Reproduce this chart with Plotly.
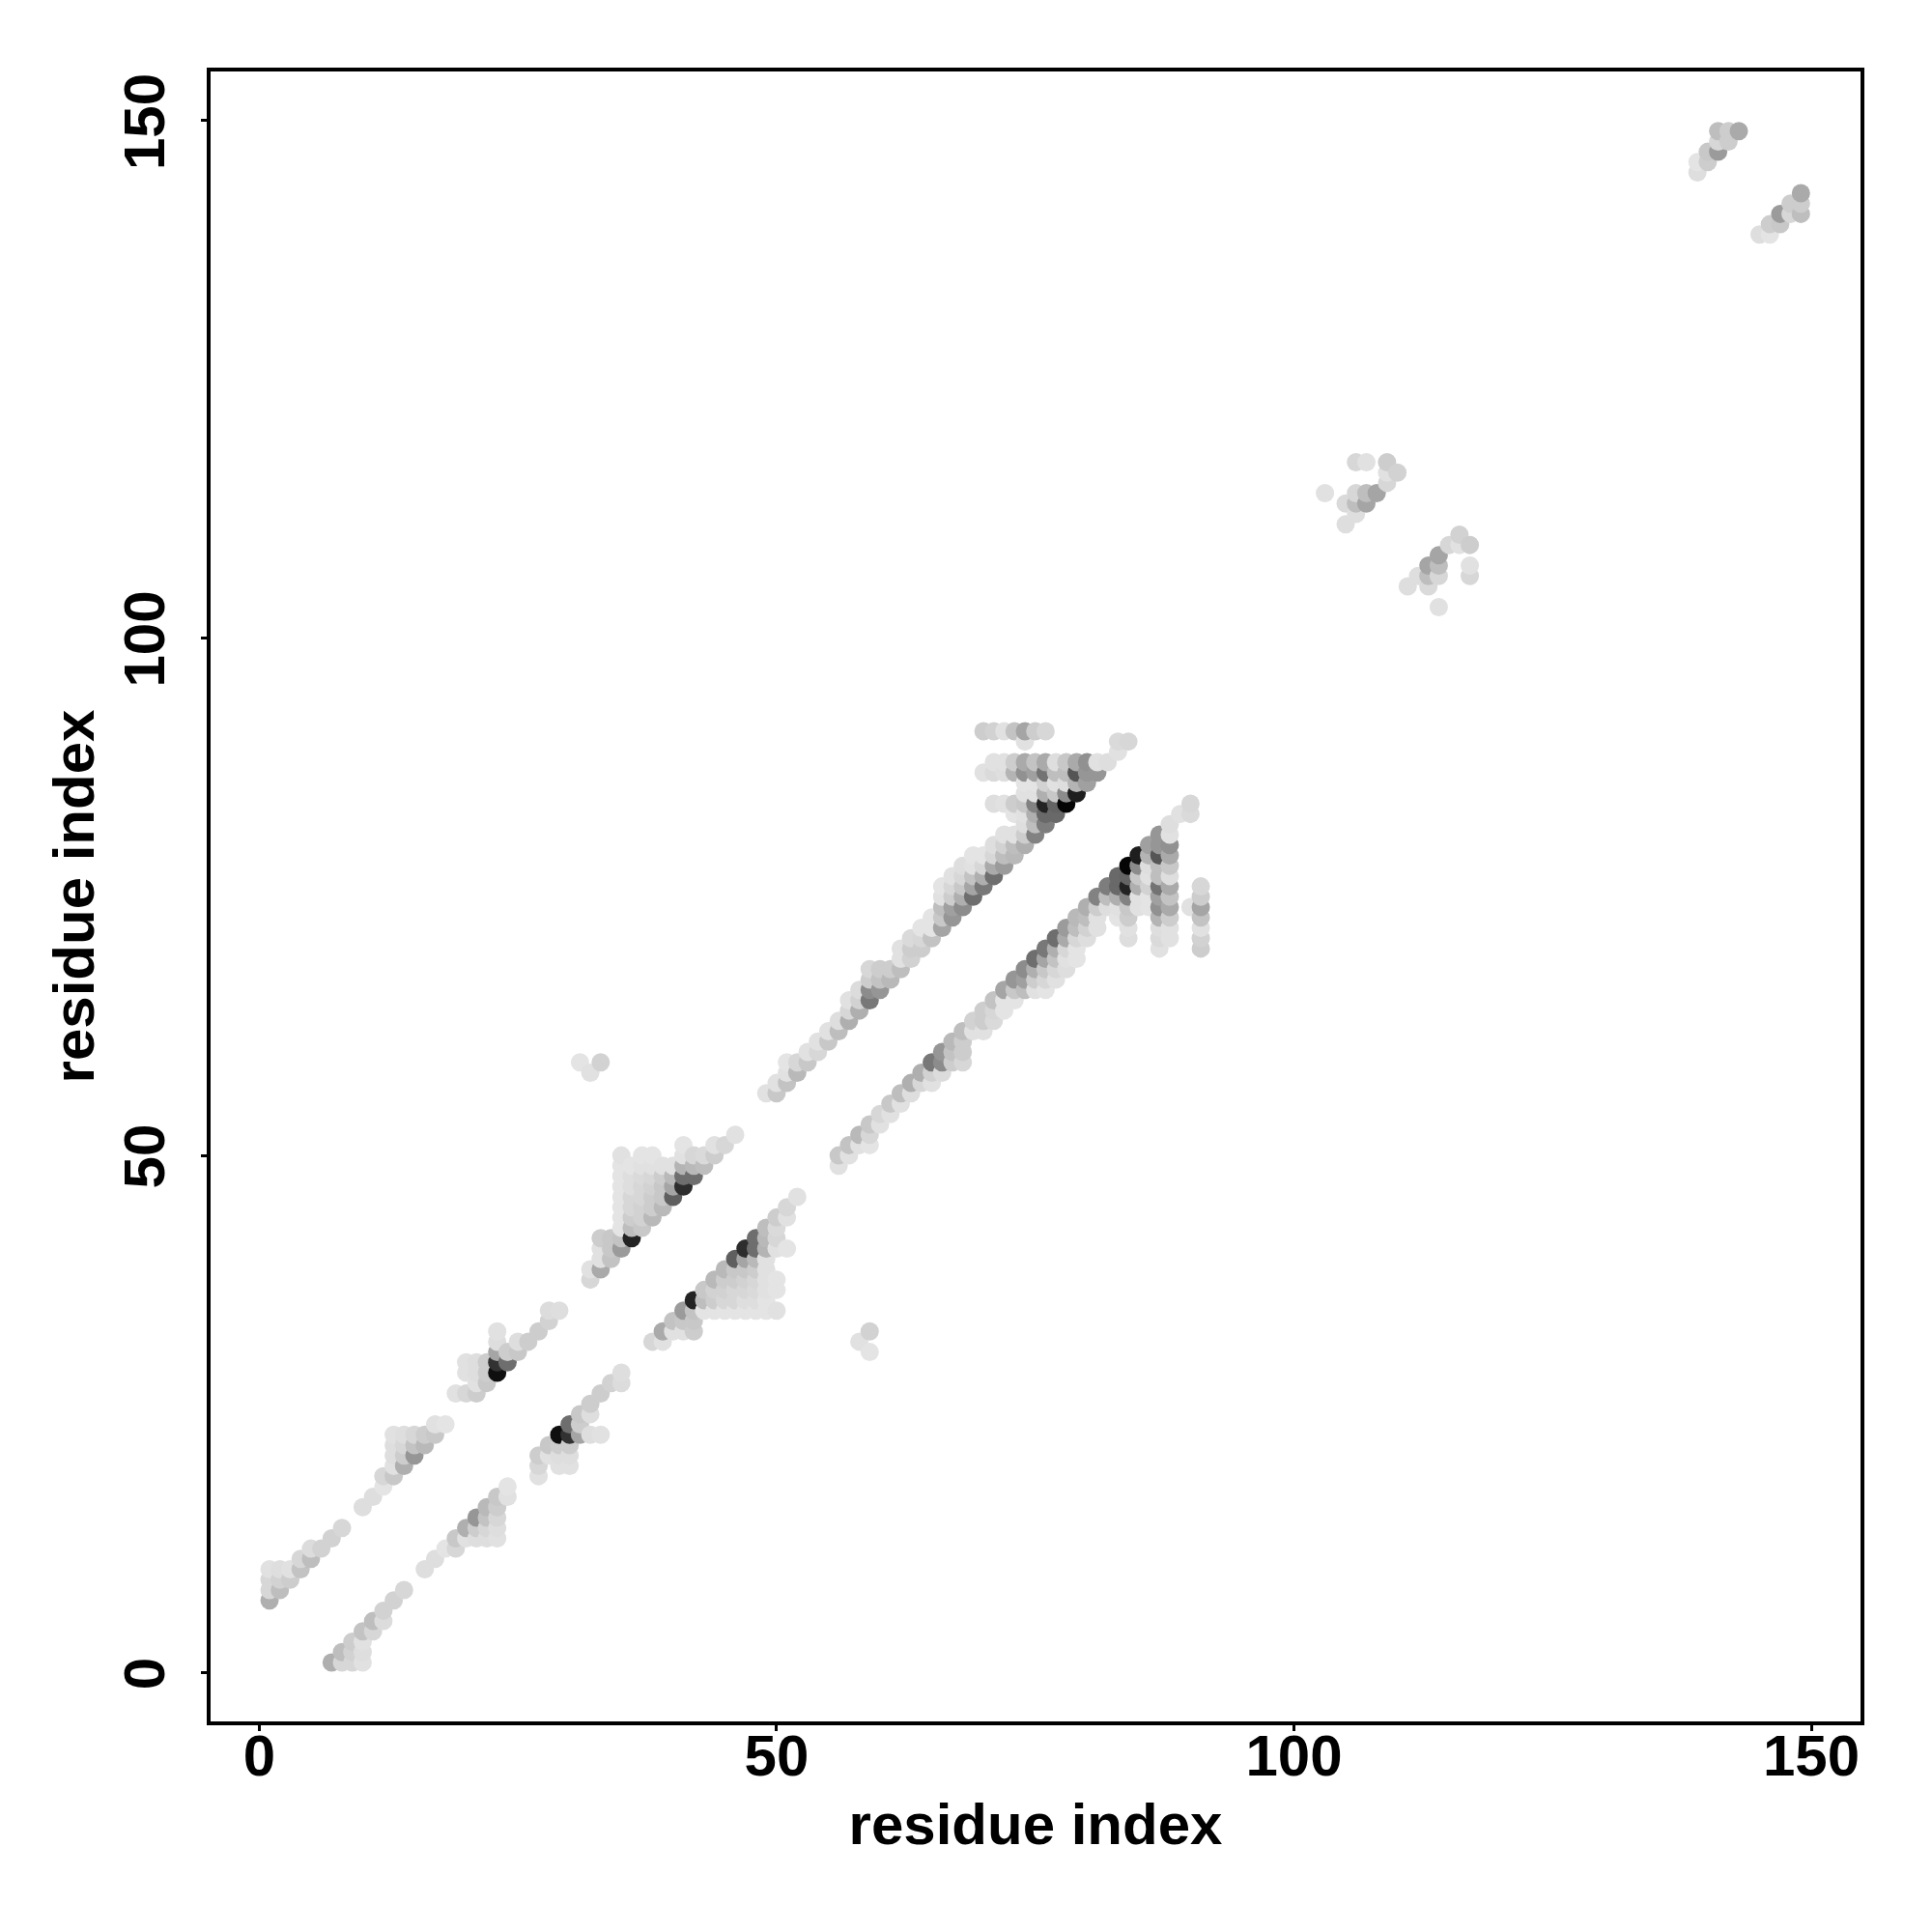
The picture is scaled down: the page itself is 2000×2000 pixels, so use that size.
import plotly.graph_objects as go

# contacts (residue i, residue j, grey level 0=black 255=white); the map is symmetric
helix_1 = [(7,1,175),(8,1,215),(9,1,215),(10,1,225),(8,2,190),(9,2,210),(10,2,222),(9,3,205),(10,3,225),
           (10,4,195),(11,4,215),(11,5,190),(12,5,220),(12,6,210),(13,7,210),(14,8,215)]
helix_2 = [(16,10,222),(17,11,222),(18,12,228),(19,12,215),(19,13,200),(20,13,225),(21,13,222),(22,13,222),
           (23,13,225),(20,14,175),(21,14,205),(22,14,215),(23,14,222),(21,15,150),
           (22,15,195),(23,15,215),(22,16,185),(23,16,205),(23,17,200),(24,17,225),(24,18,228)]
helix_3 = [(27,19,225),(27,20,215),(27,21,205),(28,21,225),(28,22,200),(29,20,225),(29,21,222),(29,22,205),
           (29,23,15),(30,20,225),(30,21,222),(30,22,205),(30,23,50),(31,23,165),(32,23,222),(33,23,225),
           (30,24,110),(31,24,205),(31,25,200),(32,25,222),(32,26,205),(33,27,205),(34,28,210),(35,28,220),(35,29,222)]
helix_4 = [(38,32,215),(39,32,225),(39,33,170),(40,33,225),(41,33,225),(42,33,205),(40,34,195),(41,34,200),(42,34,200),
           (41,35,155),(42,35,195),(43,35,228),(44,35,228),(45,35,228),(46,35,228),(47,35,228),(48,35,228),(49,35,228),(50,35,225),
           (42,36,35),(43,36,190),(44,36,205),(45,36,215),(46,36,215),(47,36,222),(48,36,222),(49,36,228),
           (43,37,200),(44,37,210),(45,37,210),(46,37,215),(47,37,215),(48,37,218),(49,37,225),(50,37,228),
           (44,38,185),(45,38,205),(46,38,205),(47,38,210),(48,38,215),(49,38,225),(50,38,228),
           (45,39,185),(46,39,200),(47,39,200),(48,39,205),(49,39,225),
           (46,40,95),(47,40,165),(48,40,185),(49,40,225),
           (47,41,45),(48,41,110),(49,41,180),(50,41,225),(51,41,228),
           (48,42,110),(49,42,185),(50,42,215),(49,43,190),(50,43,218),(50,44,205),(51,44,225),(51,45,215),(52,46,225)]
far_pair = [(58,32,225),(59,31,228),(59,33,210)]
helix_5 = [(56,49,225),(56,50,200),(57,50,225),(57,51,195),(58,51,225),(58,52,185),(59,51,228),(59,52,215),
           (59,53,200),(60,53,225),(60,54,215),(61,54,225),(61,55,200),(62,55,225),(62,56,190),(63,56,222),
           (63,57,175),(64,57,215),(65,57,225),(64,58,175),(65,58,210),(66,58,220),
           (65,59,120),(66,59,140),(67,59,205),(68,59,215),(66,60,150),(67,60,195),(68,60,205),(67,61,185),(68,61,205),
           (68,62,190),(69,62,225),(70,62,225),(69,63,210),(70,63,205),(71,63,218),(70,64,205),(71,64,215),(72,64,228)]
helix_6 = [(71,65,195),(72,65,228),(73,65,228),(72,66,165),(73,66,200),(74,66,190),(75,66,225),(76,66,228),
           (73,67,150),(74,67,160),(75,67,205),(76,67,215),(77,67,225),
           (74,68,140),(75,68,175),(76,68,200),(77,68,215),(78,68,222),
           (75,69,110),(76,69,165),(77,69,195),(78,69,225),(79,69,228),
           (76,70,120),(77,70,175),(78,70,215),(79,70,228),(77,71,110),(78,71,170),(79,71,215),(80,71,222),
           (78,72,155),(79,72,190),(80,72,210),(81,72,225),(79,73,185),(80,73,190),(81,73,225),(80,74,175),(81,74,205)]
col_81_84 = [(81,75,130),(82,74,222),(82,75,190),(82,76,125),(83,73,228),(83,74,225),(83,75,175),(83,76,105),(83,77,105),
             (84,71,222),(84,72,225),(84,73,205),(84,74,200),(84,75,130),(84,76,35),(84,77,100),(84,78,5)]
col_85_86 = [(85,74,225),(85,75,225),(85,76,175),(85,77,200),(85,78,140),(85,79,30),
             (86,74,228),(86,75,228),(86,76,210),(86,77,225),(86,78,222),(86,79,180),(86,80,160)]
col_87 = [(87,70,225),(87,71,218),(87,72,222),(87,73,180),(87,74,145),(87,75,160),(87,76,115),(87,77,190),(87,78,190),
          (87,79,85),(87,80,150),(87,81,150)]
col_88 = [(88,71,225),(88,72,225),(88,73,205),(88,74,170),(88,75,195),(88,76,170),(88,77,222),(88,78,200),(88,79,170),
          (88,80,145),(88,81,225),(88,82,222)]
col_89_91 = [(89,83,225),(90,83,218),(90,84,215),(90,74,225),
             (91,70,205),(91,71,210),(91,72,225),(91,73,195),(91,74,165),(91,75,205),(91,76,215)]
cluster_b = [(111,105,222),(112,106,222),(113,105,218),(113,106,190),(113,107,165),(114,103,225),(114,106,215),(114,107,190),
             (114,108,165),(115,109,215),(116,109,225),(116,110,210),(117,106,215),(117,107,225),(117,109,205)]
cluster_c = [(145,139,222),(146,139,228),(146,140,205),(147,140,200),(147,141,155),(148,141,215),(148,142,205),
             (149,141,190),(149,142,205),(149,143,170)]

groups = [helix_1, helix_2, helix_3, helix_4, far_pair, helix_5, helix_6, col_81_84, col_85_86,
          col_87, col_88, col_89_91, cluster_b, cluster_c]

merged = {}
for group in groups:
    for i, j, g in group:
        merged[(i, j)] = g
        merged[(j, i)] = g
ordered = sorted(merged)
res_x = [k[0] for k in ordered]
res_y = [k[1] for k in ordered]
grey = [merged[k] for k in ordered]

tick_vals = [0, 50, 100, 150]
tick_text = ["0", "50", "100", "150"]
axis_title = "residue index"

font_family = "Liberation Sans"
tick_font = dict(family=font_family, size=60, color="black", weight=700)
title_font = dict(family=font_family, size=60, color="black", weight=700)

fig = go.Figure(go.Scatter(
    x=res_x, y=res_y, mode="markers", cliponaxis=True,
    marker=dict(size=19, color=grey, cmin=0, cmax=255,
                colorscale=[[0, "black"], [1, "white"]], line=dict(width=0), showscale=False),
    hoverinfo="skip",
))
common = dict(range=[-4.70, 154.76], tickmode="array", tickvals=tick_vals, ticktext=tick_text,
              showgrid=False, zeroline=False, showline=True, linecolor="black", linewidth=4, mirror=True,
              ticks="outside", ticklen=6, tickwidth=3, tickcolor="black", tickfont=tick_font)
fig.update_xaxes(title=dict(text=axis_title, font=title_font, standoff=18), ticklabelstandoff=-26, **common)
fig.update_yaxes(title=dict(text=axis_title, font=title_font, standoff=0), tickangle=-90, ticklabelstandoff=14,
                 ticklabelshift=10, **common)
fig.update_layout(width=2000, height=2000, autosize=False, paper_bgcolor="white", plot_bgcolor="white",
                  showlegend=False, margin=dict(l=210, r=82, t=66, b=226, pad=0))
fig.write_html("out.html", config=dict(displayModeBar=False))
